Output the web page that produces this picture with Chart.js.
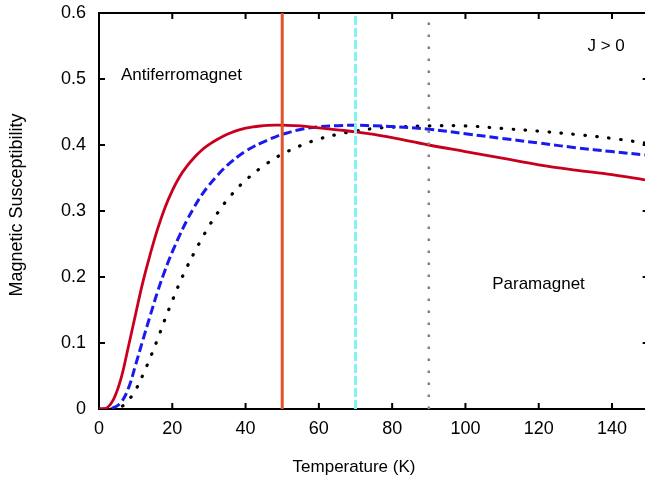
<!DOCTYPE html>
<html>
<head>
<meta charset="utf-8">
<script src="https://cdn.jsdelivr.net/npm/chart.js@4/dist/chart.umd.min.js"></script>
<style>
  html, body { margin: 0; padding: 0; background: #ffffff; }
  #wrap { width: 645px; height: 480px; position: relative; }
</style>
</head>
<body>
<div id="wrap"><canvas id="c" width="645" height="480"></canvas></div>
<script>
// ---- data ----
const temperature = [0,2,4,6,8,10,12,14,16,18,20,22,24,26,28,30,32,34,36,38,40,42,44,46,48,50,55,60,65,70,75,80,90,100,110,120,130,140,149];
const chiTmax50 = [0,0.001,0.015,0.046,0.094,0.144,0.193,0.235,0.273,0.305,0.331,0.352,0.368,0.381,0.392,0.4005,0.4075,0.4135,0.4185,0.4225,0.4255,0.4275,0.4288,0.4296,0.4300,0.430,0.429,0.426,0.423,0.420,0.416,0.411,0.400,0.390,0.380,0.370,0.362,0.355,0.347];
const chiTmax70 = [0,0,0.002,0.010,0.031,0.067,0.105,0.142,0.178,0.210,0.238,0.263,0.286,0.306,0.324,0.339,0.352,0.364,0.374,0.383,0.3905,0.397,0.4025,0.4075,0.412,0.416,0.4235,0.4275,0.4293,0.430,0.429,0.428,0.424,0.417,0.410,0.403,0.396,0.390,0.385];
const chiTmax90 = [0,0,0,0.003,0.013,0.029,0.052,0.078,0.106,0.136,0.164,0.191,0.215,0.237,0.2575,0.277,0.294,0.310,0.3235,0.336,0.3465,0.356,0.3648,0.3726,0.380,0.3863,0.399,0.409,0.416,0.421,0.425,0.427,0.429,0.429,0.425,0.421,0.416,0.410,0.403];
const markerTemps = [50, 70, 90];
const markerRange = [0, 0.6];
const xTickValues = [0,20,40,60,80,100,120,140];
const xTickLabels = ["0","20","40","60","80","100","120","140"];
const yTickValues = [0,0.1,0.2,0.3,0.4,0.5,0.6];
const yTickLabels = ["0","0.1","0.2","0.3","0.4","0.5","0.6"];
const annotations = [
  { text: "Antiferromagnet", x: 6.0, y: 0.506 },
  { text: "J > 0", x: 133.3, y: 0.55 },
  { text: "Paramagnet", x: 107.3, y: 0.189 }
];
const xTitle = "Temperature (K)";
const yTitle = "Magnetic Susceptibility";

const FONT = "'Liberation Sans', Arial, Helvetica, sans-serif";

function pts(xs, ys) { return xs.map((x, i) => ({ x: x, y: ys[i] })); }
function vline(t) { return [{ x: t, y: markerRange[0] }, { x: t, y: markerRange[1] }]; }

const framePlugin = {
  id: 'frame',
  beforeDatasetsDraw(chart) {
    const { ctx, chartArea: a, scales: { x, y } } = chart;
    ctx.save();
    ctx.strokeStyle = '#000';
    ctx.lineWidth = 2;
    ctx.lineCap = 'butt';
    const xr = x.getPixelForValue(150);
    ctx.beginPath();
    ctx.moveTo(a.left, a.top); ctx.lineTo(a.left, a.bottom);
    ctx.moveTo(a.left - 1, a.bottom); ctx.lineTo(a.right, a.bottom);
    ctx.moveTo(a.left - 1, a.top); ctx.lineTo(a.right, a.top);
    const tl = 6;
    xTickValues.forEach(v => {
      const px = x.getPixelForValue(v);
      ctx.moveTo(px, a.bottom); ctx.lineTo(px, a.bottom - tl);
      ctx.moveTo(px, a.top); ctx.lineTo(px, a.top + tl);
    });
    yTickValues.forEach(v => {
      const py = y.getPixelForValue(v);
      ctx.moveTo(a.left, py); ctx.lineTo(a.left + tl, py);
      ctx.moveTo(xr, py); ctx.lineTo(xr - tl, py);
    });
    ctx.stroke();
    ctx.restore();
  },
  afterDraw(chart) {
    const { ctx, scales: { x, y } } = chart;
    ctx.save();
    ctx.fillStyle = '#000';
    ctx.font = "17px " + FONT;
    ctx.textBaseline = 'middle';
    ctx.textAlign = 'left';
    annotations.forEach(a => {
      ctx.fillText(a.text, x.getPixelForValue(a.x), y.getPixelForValue(a.y));
    });
    ctx.textAlign = 'center';
    ctx.fillText(xTitle, 354, 467);
    ctx.font = "18px " + FONT;
    ctx.translate(17, 205);
    ctx.rotate(-Math.PI / 2);
    ctx.fillText(yTitle, 0, 0);
    ctx.restore();
  }
};

new Chart(document.getElementById('c'), {
  type: 'line',
  data: {
    datasets: [
      { label: 'T = 50', data: vline(markerTemps[0]), borderColor: '#e2512c', borderWidth: 3, pointRadius: 0, order: 1 },
      { label: 'T = 70', data: vline(markerTemps[1]), borderColor: '#80f4f4', borderWidth: 3, borderDash: [9, 3], pointRadius: 0, order: 2 },
      { label: 'T = 90', data: vline(markerTemps[2]), borderColor: '#808080', borderWidth: 2.5, borderDash: [2.5, 9.5], pointRadius: 0, order: 3 },
      { label: 'Tmax 50', data: pts(temperature, chiTmax50), borderColor: '#c8001e', borderWidth: 2.8, pointRadius: 0, tension: 0.4, order: 4 },
      { label: 'Tmax 70', data: pts(temperature, chiTmax70), borderColor: '#1a1aee', borderWidth: 3, borderDash: [9, 4], pointRadius: 0, tension: 0.4, order: 5 },
      { label: 'Tmax 90', data: pts(temperature, chiTmax90), borderColor: '#000000', borderWidth: 3.2, borderDash: [0.5, 11.5], borderCapStyle: 'round', pointRadius: 0, tension: 0.4, order: 6 }
    ]
  },
  options: {
    responsive: false,
    animation: false,
    events: [],
    layout: { padding: { top: 13, right: 0, left: 0, bottom: 0 } },
    plugins: { legend: { display: false }, tooltip: { enabled: false } },
    scales: {
      x: {
        type: 'linear', min: 0, max: 149,
        grid: { display: false, drawTicks: false },
        border: { display: false },
        afterBuildTicks: s => { s.ticks = xTickValues.map(v => ({ value: v })); },
        afterFit: s => { s.height = 71; s.paddingLeft = 0; s.paddingRight = 0; },
        ticks: {
          padding: 9, color: '#000', maxRotation: 0,
          font: { family: FONT, size: 18 },
          callback: (v) => { const i = xTickValues.indexOf(v); return i >= 0 ? xTickLabels[i] : ''; }
        }
      },
      y: {
        type: 'linear', min: 0, max: 0.6,
        grid: { display: false, drawTicks: false },
        border: { display: false },
        afterBuildTicks: s => { s.ticks = yTickValues.map(v => ({ value: v })); },
        afterFit: s => { s.width = 99; s.paddingTop = 0; s.paddingBottom = 0; },
        ticks: {
          padding: 13, color: '#000',
          font: { family: FONT, size: 18 },
          callback: (v) => { const i = yTickValues.findIndex(t => Math.abs(t - v) < 1e-9); return i >= 0 ? yTickLabels[i] : ''; }
        }
      }
    }
  },
  plugins: [framePlugin]
});
</script>
</body>
</html>
